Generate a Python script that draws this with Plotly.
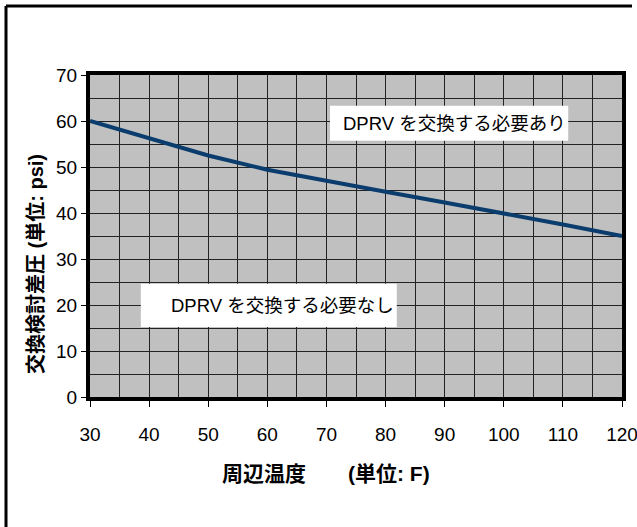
import plotly.graph_objects as go

# Ambient temperature (F) and replacement differential pressure (psi)
temperature_f = [30, 40, 50, 60, 70, 80, 90, 100, 110, 120]
diff_pressure_psi = [60.0, 56.2, 52.5, 49.4, 46.9, 44.6, 42.3, 40.0, 37.5, 35.0]

x_ticks = [30, 40, 50, 60, 70, 80, 90, 100, 110, 120]
y_ticks = [0, 10, 20, 30, 40, 50, 60, 70]

label_replace = "DPRV を交換する必要あり"
label_keep = "DPRV を交換する必要なし"
x_title = "周辺温度　　(単位: F)"
y_title = "交換検討差圧 (単位: psi)"

FONT = "Liberation Sans, Arial, Noto Sans CJK JP, sans-serif"
W, H = 637, 527
ML, MR, MT, MB = 90, 15, 75, 130
PW, PH = W - ML - MR, H - MT - MB


def px_x(p):
    return (p - ML) / PW


def px_y(p):
    return (H - MB - p) / PH


fig = go.Figure()
fig.add_trace(go.Scatter(
    x=temperature_f, y=diff_pressure_psi, mode="lines",
    line=dict(color="#0A3D6E", width=4), showlegend=False, hoverinfo="skip",
))

grid = dict(showgrid=True, gridcolor="#222222", gridwidth=1)
fig.update_xaxes(
    range=[30, 120], tickvals=x_ticks, ticks="outside", ticklen=6, tickwidth=1,
    tickcolor="#000", showline=True, linewidth=4, linecolor="#000", mirror=True,
    tickfont=dict(family=FONT, size=19, color="#000"), ticklabelstandoff=11,
    ticklabeloverflow="allow",
    minor=dict(dtick=5, tick0=30, showgrid=True, gridcolor="#222222", gridwidth=1),
    zeroline=False, automargin=False, **grid,
)
fig.update_yaxes(
    range=[0, 70], tickvals=y_ticks, ticks="outside", ticklen=5, tickwidth=1,
    tickcolor="#000", showline=True, linewidth=4, linecolor="#000", mirror=True,
    tickfont=dict(family=FONT, size=19, color="#000"), ticklabelstandoff=0,
    ticklabeloverflow="allow",
    minor=dict(dtick=5, tick0=0, showgrid=True, gridcolor="#222222", gridwidth=1),
    zeroline=False, automargin=False, **grid,
)

shapes = [
    # white label boxes
    dict(type="rect", xref="x", yref="y", x0=70.6, x1=110.9, y0=55.7, y1=63.3,
         fillcolor="white", line=dict(width=0), layer="above"),
    dict(type="rect", xref="x", yref="y", x0=38.6, x1=81.9, y0=15.2, y1=24.6,
         fillcolor="white", line=dict(width=0), layer="above"),
    # outer frame (top and left edges)
    dict(type="line", xref="paper", yref="paper", x0=px_x(6), x1=px_x(632),
         y0=px_y(6), y1=px_y(6), line=dict(color="#000", width=3)),
    dict(type="line", xref="paper", yref="paper", x0=px_x(6), x1=px_x(6),
         y0=px_y(6), y1=px_y(H + 5), line=dict(color="#000", width=3)),
]

annotations = [
    dict(text=label_replace, x=110.9, y=59.5, xref="x", yref="y", xanchor="right",
         yanchor="middle", showarrow=False, font=dict(family=FONT, size=18.5, color="#000")),
    dict(text=label_keep, x=81.8, y=19.9, xref="x", yref="y", xanchor="right",
         yanchor="middle", showarrow=False, font=dict(family=FONT, size=18.5, color="#000")),
    dict(text="<b>" + x_title + "</b>", x=px_x(326), y=px_y(473), xref="paper", yref="paper",
         xanchor="center", yanchor="middle", showarrow=False,
         font=dict(family=FONT, size=21, color="#000")),
    dict(text="<b>" + y_title + "</b>", x=px_x(36), y=px_y(264), xref="paper", yref="paper",
         xanchor="center", yanchor="middle", showarrow=False, textangle=-90,
         font=dict(family=FONT, size=20, color="#000")),
]

fig.update_layout(
    width=W, height=H, margin=dict(l=ML, r=MR, t=MT, b=MB),
    paper_bgcolor="white", plot_bgcolor="#C0C0C0",
    shapes=shapes, annotations=annotations, showlegend=False,
)

fig.write_html("out.html")
